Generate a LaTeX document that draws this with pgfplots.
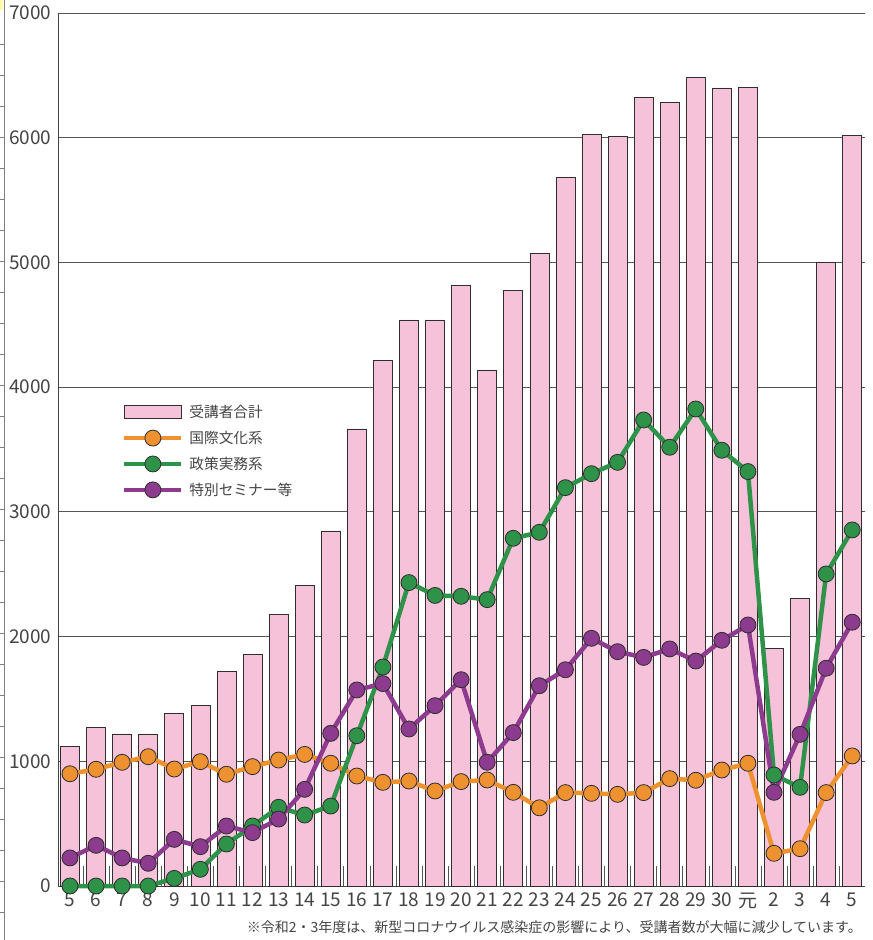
\documentclass[border=0pt]{standalone}
\usepackage{fontspec}
\setmainfont{Noto Sans CJK JP}
\usepackage{pgfplots}
\pgfplotsset{compat=1.18}
\usepackage{pgfplotstable}
\definecolor{barpink}{HTML}{F6C2DA}
\definecolor{baredge}{HTML}{2E2E2E}
\definecolor{corange}{HTML}{EE9130}
\definecolor{cgreen}{HTML}{2E9249}
\definecolor{cpurple}{HTML}{8C3B8E}
\definecolor{textgray}{HTML}{444444}
\definecolor{gridgray}{HTML}{555555}
\pgfplotstableread{
idx total intl policy seminar
0 1120 900 0 225
1 1270 936 0 326
2 1220 992 0 225
3 1220 1037 0 182
4 1382 938 61 374
5 1451 997 134 315
6 1719 896 337 481
7 1858 957 481 428
8 2179 1010 631 537
9 2410 1055 569 775
10 2847 984 641 1224
11 3665 882 1205 1572
12 4213 831 1756 1623
13 4539 842 2433 1259
14 4539 762 2330 1446
15 4814 837 2323 1654
16 4138 850 2296 992
17 4774 751 2788 1230
18 5074 627 2836 1606
19 5683 749 3194 1734
20 6027 743 3306 1986
21 6009 735 3397 1879
22 6322 749 3737 1833
23 6284 861 3518 1901
24 6485 848 3825 1804
25 6399 930 3494 1970
26 6405 984 3323 2093
27 1906 262 890 751
28 2307 299 791 1216
29 4998 749 2502 1746
30 6020 1043 2855 2115
}\datatable
\begin{document}
\begin{tikzpicture}
\useasboundingbox (0,0) rectangle (873pt,940pt);
\fill[yellow!35] (0pt,930pt) rectangle (3pt,940pt);
\draw[gray, line width=0.6pt] (3.8pt,0pt) -- (3.8pt,940pt);
\foreach \k in {0,...,28} {\draw[gray, line width=0.6pt] (0pt,{(896-31*\k)*1pt}) -- (3.8pt,{(896-31*\k)*1pt});}
\begin{axis}[
  at={(58pt,54pt)}, anchor=south west,
  scale only axis, width=807pt, height=873pt,
  xmin=-0.46, xmax=30.49, ymin=0, ymax=7000,
  clip=false,
  axis x line*=bottom, axis y line*=left,
  axis line style={draw=textgray, line width=0.9pt},
  ymajorgrids=true,
  grid style={draw=gridgray, line width=0.8pt},
  ytick={0,1000,...,7000},
  ytick style={draw=none},
  yticklabel style={font=\fontsize{19pt}{20pt}\selectfont, text=textgray, xshift=-3pt},
  /pgf/number format/assume math mode=true,
  /pgf/number format/1000 sep={},
  xtick={0,...,30},
  xticklabels={5,6,7,8,9,10,11,12,13,14,15,16,17,18,19,20,21,22,23,24,25,26,27,28,29,30,元,2,3,4,5},
  xticklabel style={font=\fontsize{19pt}{20pt}\selectfont, text=textgray, yshift=-3pt},
  major x tick style={draw=none},
  minor xtick={0.5,1.5,...,29.5},
  minor tick length=20pt,
  tick align=inside,
  minor x tick style={draw=gridgray, line width=0.6pt},
  legend style={at={(rel axis cs:0.0755,0.5555)}, anchor=north west, draw=none, fill=none,
    font=\fontsize{14.7pt}{16pt}\selectfont, text=textgray, row sep=8pt,
    /tikz/every even column/.append style={column sep=11pt}},
  legend cell align=left,
  legend image code/.code={\draw[mark repeat=2,mark phase=2,#1] plot coordinates {(0pt,0pt) (28.5pt,0pt) (57pt,0pt)}; \path[draw=none,fill=none] (57pt,0pt) -- (63pt,0pt);},
]
\addplot[ybar, bar width=19pt, bar shift=0pt, fill=barpink, draw=baredge, line width=0.6pt,
  legend image code/.code={\draw[fill=barpink, draw=baredge, line width=0.6pt] (0pt,-6.5pt) rectangle (57pt,6.5pt); \path[draw=none,fill=none] (57pt,0pt) -- (63pt,0pt);}]
  table[x=idx, y=total] {\datatable};
\addlegendentry{受講者合計}
\addplot[corange, line width=4.5pt, mark=*, mark size=8pt, mark options={draw=baredge, fill=corange, line width=0.8pt}]
  table[x=idx, y=intl] {\datatable};
\addlegendentry{国際文化系}
\addplot[cgreen, line width=4.5pt, mark=*, mark size=8pt, mark options={draw=baredge, fill=cgreen, line width=0.8pt}]
  table[x=idx, y=policy] {\datatable};
\addlegendentry{政策実務系}
\addplot[cpurple, line width=4.5pt, mark=*, mark size=8pt, mark options={draw=baredge, fill=cpurple, line width=0.8pt}]
  table[x=idx, y=seminar] {\datatable};
\addlegendentry{特別セミナー等}
\end{axis}
\node[anchor=base east, inner sep=0pt, font=\fontsize{14pt}{15pt}\selectfont, text=textgray] at (862pt,7pt) {※令和2・3年度は、新型コロナウイルス感染症の影響により、受講者数が大幅に減少しています。};
\end{tikzpicture}
\end{document}
